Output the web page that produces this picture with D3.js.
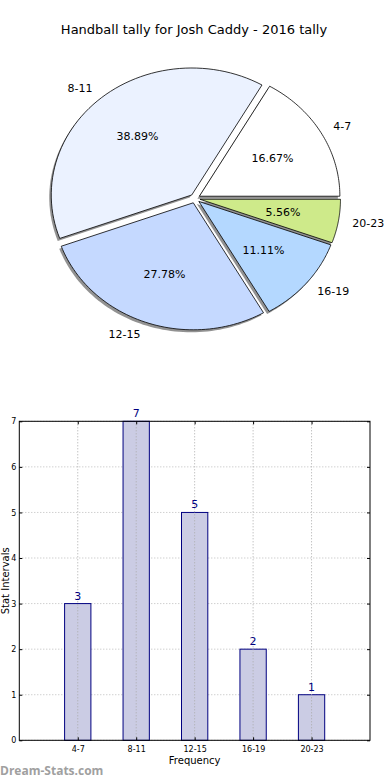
<!DOCTYPE html>
<html>
<head>
<meta charset="utf-8">
<script src="https://cdn.jsdelivr.net/npm/d3@7"></script>
<style>
  body { margin: 0; background: #fff; }
  svg { display: block; font-family: "DejaVu Sans", sans-serif; }
</style>
</head>
<body>
<div id="chart"></div>
<script>
// data
const categories = ["4-7", "8-11", "12-15", "16-19", "20-23"];
const counts = [3, 7, 5, 2, 1];
const sliceColors = ["#ffffff", "#ebf2ff", "#c5d9ff", "#b4d8ff", "#ceea8a"];
const yTicks = [0, 1, 2, 3, 4, 5, 6, 7];
const title = "Handball tally for Josh Caddy - 2016 tally";

const W = 390, H = 780;
const svg = d3.select("#chart").append("svg")
    .attr("width", W)
    .attr("height", H);

// title
svg.append("text")
    .attr("x", 194)
    .attr("y", 34)
    .attr("text-anchor", "middle")
    .style("font-size", "13px")
    .text(title);

// ---- pie (matplotlib style: starts east, counterclockwise, elliptical) ----
const cx = 195, cy = 198.5, rx = 140.5, ry = 127;
const explode = 0.036;
const total = d3.sum(counts);

// angles here are counterclockwise from east
const pie = d3.pie().sort(null).value(d => d)
    .startAngle(0).endAngle(2 * Math.PI);
const arcs = pie(counts);

const pt = (theta, r) => [Math.cos(theta) * rx * r, -Math.sin(theta) * ry * r];

function wedgePath(a0, a1) {
    const n = 60;
    let p = "M0,0";
    for (let i = 0; i <= n; i++) {
        const t = a0 + (a1 - a0) * i / n;
        const q = pt(t, 1);
        p += "L" + q[0] + "," + q[1];
    }
    return p + "Z";
}

const pieG = svg.append("g").attr("transform", `translate(${cx},${cy})`);

// shadows first
arcs.forEach((a, i) => {
    const mid = (a.startAngle + a.endAngle) / 2;
    const off = pt(mid, explode);
    pieG.append("path")
        .attr("d", wedgePath(a.startAngle, a.endAngle))
        .attr("transform", `translate(${off[0] - 2},${off[1] + 2.5})`)
        .attr("fill", "#777")
        .attr("fill-opacity", 0.8)
        .attr("stroke", "none");
});

arcs.forEach((a, i) => {
    const mid = (a.startAngle + a.endAngle) / 2;
    const off = pt(mid, explode);
    const g = pieG.append("g").attr("transform", `translate(${off[0]},${off[1]})`);
    g.append("path")
        .attr("d", wedgePath(a.startAngle, a.endAngle))
        .attr("fill", sliceColors[i])
        .attr("stroke", "#000")
        .attr("stroke-width", 0.8);
    const lp = pt(mid, 1.1);
    g.append("text")
        .attr("x", lp[0])
        .attr("y", lp[1])
        .attr("dy", "0.35em")
        .attr("text-anchor", lp[0] >= 0 ? "start" : "end")
        .style("font-size", "11px")
        .text(categories[i]);
    const pp = pt(mid, 0.6);
    g.append("text")
        .attr("x", pp[0])
        .attr("y", pp[1])
        .attr("dy", "0.35em")
        .attr("text-anchor", "middle")
        .style("font-size", "11px")
        .text((counts[i] / total * 100).toFixed(2) + "%");
});

// ---- bar chart ----
const bLeft = 19.3, bRight = 370, bTop = 421.3, bBottom = 740.3;
const x = d3.scaleLinear().domain([-1, 5]).range([bLeft, bRight]);
const y = d3.scaleLinear().domain([0, 7]).range([bBottom, bTop]);
const barW = 0.45;

const bar = svg.append("g");

// horizontal grid
bar.selectAll(".hgrid").data(yTicks).join("line")
    .attr("x1", bLeft).attr("x2", bRight)
    .attr("y1", d => y(d)).attr("y2", d => y(d))
    .attr("stroke", "#bbb").attr("stroke-width", 1)
    .attr("stroke-dasharray", "1,2");

// bars
bar.selectAll(".bar").data(counts).join("rect")
    .attr("x", (d, i) => x(i - barW / 2))
    .attr("y", d => y(d))
    .attr("width", x(barW) - x(0))
    .attr("height", d => bBottom - y(d))
    .attr("fill", "#cbcce4")
    .attr("stroke", "#000080")
    .attr("stroke-width", 1);

// vertical grid (drawn over bars)
bar.selectAll(".vgrid").data(categories).join("line")
    .attr("x1", (d, i) => x(i)).attr("x2", (d, i) => x(i))
    .attr("y1", bTop).attr("y2", bBottom)
    .attr("stroke", "#aaa").attr("stroke-width", 1)
    .attr("stroke-dasharray", "1,2");

// value labels
bar.selectAll(".val").data(counts).join("text")
    .attr("x", (d, i) => x(i))
    .attr("y", d => y(d) - 4)
    .attr("text-anchor", "middle")
    .attr("fill", "#000080")
    .style("font-size", "11px")
    .text(d => d);

// axes frame
bar.append("rect")
    .attr("x", bLeft).attr("y", bTop)
    .attr("width", bRight - bLeft).attr("height", bBottom - bTop)
    .attr("fill", "none").attr("stroke", "#000").attr("stroke-width", 1);

// y axis (ticks inside)
const yAxis = bar.append("g")
    .attr("transform", `translate(${bLeft},0)`)
    .call(d3.axisLeft(y).tickValues(yTicks).tickFormat(d3.format("d"))
        .tickSizeInner(-3).tickSizeOuter(0).tickPadding(3));
yAxis.select(".domain").remove();
yAxis.selectAll("text").style("font-size", "8px").attr("font-family", "DejaVu Sans");

const yAxisR = bar.append("g")
    .attr("transform", `translate(${bRight},0)`)
    .call(d3.axisRight(y).tickValues(yTicks).tickSizeInner(-3).tickSizeOuter(0).tickFormat(""));
yAxisR.select(".domain").remove();

// x axis
const xAxis = bar.append("g")
    .attr("transform", `translate(0,${bBottom})`)
    .call(d3.axisBottom(x).tickValues(d3.range(categories.length))
        .tickFormat(i => categories[i]).tickSizeInner(-3).tickSizeOuter(0).tickPadding(6));
xAxis.select(".domain").remove();
xAxis.selectAll("text").style("font-size", "8px").attr("font-family", "DejaVu Sans");

const xAxisT = bar.append("g")
    .attr("transform", `translate(0,${bTop})`)
    .call(d3.axisTop(x).tickValues(d3.range(categories.length))
        .tickFormat("").tickSizeInner(-3).tickSizeOuter(0));
xAxisT.select(".domain").remove();

// axis labels
bar.append("text")
    .attr("x", (bLeft + bRight) / 2)
    .attr("y", 764)
    .attr("text-anchor", "middle")
    .style("font-size", "10px")
    .text("Frequency");

bar.append("text")
    .attr("transform", `translate(8.5,${(bTop + bBottom) / 2}) rotate(-90)`)
    .attr("text-anchor", "middle")
    .style("font-size", "10px")
    .text("Stat Intervals");

// watermark
svg.append("text")
    .attr("x", 0)
    .attr("y", 775)
    .attr("fill", "#a0a0a0")
    .style("font-size", "12px")
    .style("font-weight", "bold")
    .style("font-family", "'Open Sans', 'DejaVu Sans', sans-serif")
    .text("Dream-Stats.com");
</script>
</body>
</html>
